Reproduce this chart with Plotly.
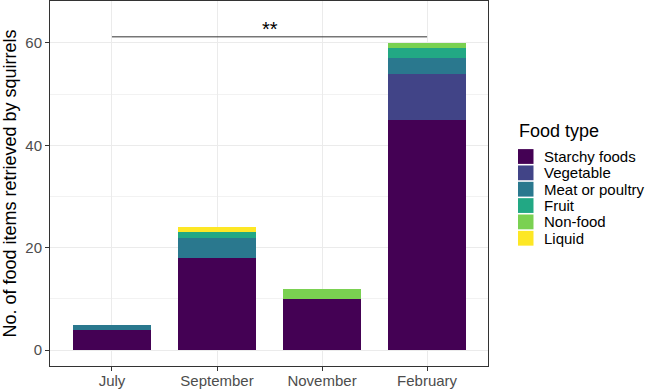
import plotly.graph_objects as go

months = ["July", "September", "November", "February"]
food_types = ["Starchy foods", "Vegetable", "Meat or poultry", "Fruit", "Non-food", "Liquid"]
starchy = [4, 18, 10, 45]
vegetable = [0, 0, 0, 9]
meat = [1, 4, 0, 3]
fruit = [0, 1, 0, 2]
nonfood = [0, 0, 2, 1]
liquid = [0, 1, 0, 0]
series = [starchy, vegetable, meat, fruit, nonfood, liquid]
colors = ["#440154", "#414487", "#2A788E", "#22A884", "#7AD151", "#FDE725"]
sig_y = 61.2
sig_label = "**"
legend_title = "Food type"

W, H = 645, 390
ML, MR, MT, MB = 50, 157, 1, 24
PW, PH = W - ML - MR, H - MT - MB


def px(x):
    return (x - ML) / PW


def py(y):
    return (H - MB - y) / PH


FONT = "Liberation Sans, Arial, sans-serif"

fig = go.Figure()
for name, vals, col in zip(food_types, series, colors):
    fig.add_trace(go.Bar(x=list(range(len(months))), y=vals, name=name, showlegend=False,
                         marker=dict(color=col, line=dict(width=0)), width=0.75))

fig.add_shape(type="line", xref="x", yref="y", x0=0, x1=3, y0=sig_y, y1=sig_y,
              line=dict(color="#333333", width=1))
fig.add_annotation(x=1.5, y=sig_y, xref="x", yref="y", text=sig_label, showarrow=False,
                   yanchor="bottom", yshift=-5, font=dict(size=20, color="black", family=FONT))

# legend drawn manually (ggplot style)
fig.add_annotation(x=px(517), y=py(131), xref="paper", yref="paper", text=legend_title,
                   showarrow=False, xanchor="left", yanchor="middle",
                   font=dict(size=18, color="black", family=FONT))
step = 16.35
for i, (name, col) in enumerate(zip(food_types, colors)):
    cy = 156.5 + i * step
    fig.add_shape(type="rect", xref="paper", yref="paper",
                  x0=px(518), x1=px(533.5), y0=py(cy - 7.4), y1=py(cy + 7.4),
                  fillcolor=col, line=dict(width=0))
    fig.add_annotation(x=px(542), y=py(cy), xref="paper", yref="paper", text=name,
                       showarrow=False, xanchor="left", yanchor="middle",
                       font=dict(size=15, color="black", family=FONT))

fig.update_layout(
    barmode="stack",
    width=W, height=H,
    margin=dict(l=ML, r=MR, t=MT, b=MB, autoexpand=False),
    plot_bgcolor="white", paper_bgcolor="white",
    font=dict(family=FONT, color="black"),
    showlegend=False,
    xaxis=dict(tickmode="array", tickvals=list(range(len(months))), ticktext=months,
               range=[-0.59, 3.58], showgrid=True, gridcolor="#ebebeb", gridwidth=1,
               ticks="outside", ticklen=4, tickcolor="#333333",
               tickfont=dict(size=15, color="#4d4d4d"), ticklabelstandoff=-3,
               showline=True, linecolor="#333333", mirror=True, zeroline=False),
    yaxis=dict(range=[-3.1, 68.2], tickvals=[0, 20, 40, 60], showgrid=True,
               gridcolor="#ebebeb", gridwidth=1.2,
               minor=dict(tickvals=[10, 30, 50], showgrid=True, gridcolor="#f2f2f2", gridwidth=0.6),
               ticks="outside", ticklen=4, tickcolor="#333333",
               tickfont=dict(size=15, color="#4d4d4d"),
               title=dict(text="No. of food items retrieved by squirrels",
                          font=dict(size=18), standoff=4),
               showline=True, linecolor="#333333", mirror=True, zeroline=False),
)
fig.write_html("out.html", config={"displayModeBar": False},
               post_script="document.body.style.margin='0px';")
